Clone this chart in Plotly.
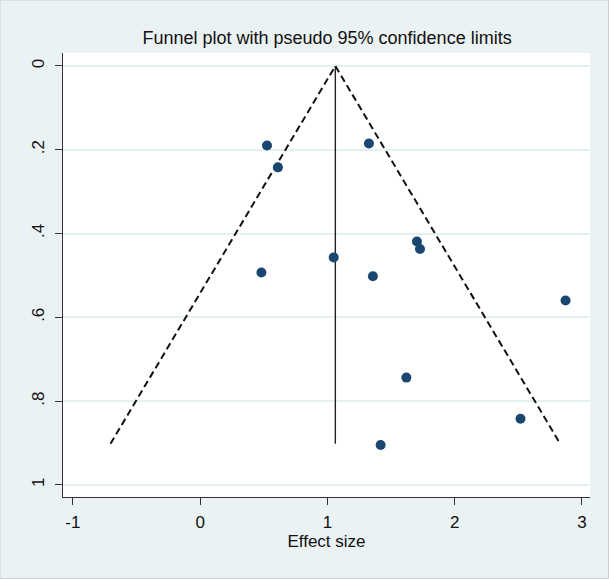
import plotly.graph_objects as go

# Study data: effect size and standard error
effect_size = [0.525, 0.611, 1.326, 1.703, 1.727, 1.049, 0.481, 1.357, 2.871, 1.620, 2.517, 1.418]
std_error = [0.190, 0.242, 0.185, 0.419, 0.437, 0.457, 0.493, 0.502, 0.560, 0.744, 0.842, 0.905]

# Pooled estimate line and pseudo 95% confidence limits
pooled_x = [1.062, 1.062]
pooled_y = [0.0, 0.902]
limits_x = [-0.705, 1.062, 2.829]
limits_y = [0.902, 0.0, 0.902]

x_ticks = [-1, 0, 1, 2, 3]
x_tick_labels = ["-1", "0", "1", "2", "3"]
y_ticks = [0, 0.2, 0.4, 0.6, 0.8, 1]
y_tick_labels = ["0", ".2", ".4", ".6", ".8", "1"]

FONT = "Liberation Sans Narrow, Liberation Sans, Arial Narrow, Arial, sans-serif"

fig = go.Figure()
fig.add_trace(go.Scatter(x=pooled_x, y=pooled_y, mode="lines",
                         line=dict(color="#222222", width=1.4), showlegend=False,
                         hoverinfo="skip"))
fig.add_trace(go.Scatter(x=limits_x, y=limits_y, mode="lines",
                         line=dict(color="#111111", width=2, dash="7px,4px"),
                         showlegend=False, hoverinfo="skip"))
fig.add_trace(go.Scatter(x=effect_size, y=std_error, mode="markers",
                         marker=dict(color="#1A476F", size=10, symbol="circle"),
                         showlegend=False))

fig.update_layout(
    width=609, height=579,
    margin=dict(l=63, r=19, t=53, b=82),
    paper_bgcolor="#EAF2F3",
    plot_bgcolor="#FFFFFF",
    font=dict(family=FONT, color="#111111", size=17),
    title=dict(text="Funnel plot with pseudo 95% confidence limits",
               x=0.537, xanchor="center", y=1 - 38 / 579, yanchor="middle",
               yref="container", font=dict(family=FONT, size=18, color="#111111")),
    xaxis=dict(range=[-1.078, 3.063], tickvals=x_ticks, ticktext=x_tick_labels,
               ticks="outside", ticklen=7, ticklabelstandoff=3,
               tickcolor="#333333", showline=True, linecolor="#333333", linewidth=1,
               showgrid=False, zeroline=False, mirror=False,
               tickfont=dict(size=17),
               title=dict(text="Effect size", font=dict(size=17), standoff=2)),
    yaxis=dict(range=[1.029, -0.031], tickvals=y_ticks, ticktext=y_tick_labels,
               tickangle=-90, ticks="outside", ticklen=7, ticklabelstandoff=4,
               tickcolor="#333333",
               showline=True, linecolor="#333333", linewidth=1,
               showgrid=True, gridcolor="#E6F0F2", gridwidth=1.5, zeroline=False,
               tickfont=dict(size=17)),
    shapes=[dict(type="rect", xref="paper", yref="paper", x0=-63/527, x1=1+18.5/527,
                 y0=-81.5/444, y1=1+53/444, line=dict(color="#C8D0D2", width=1))],
)

fig.write_html("out.html", config={"displayModeBar": False},
               post_script="document.body.style.margin='0';document.body.style.background='#EAF2F3';")
